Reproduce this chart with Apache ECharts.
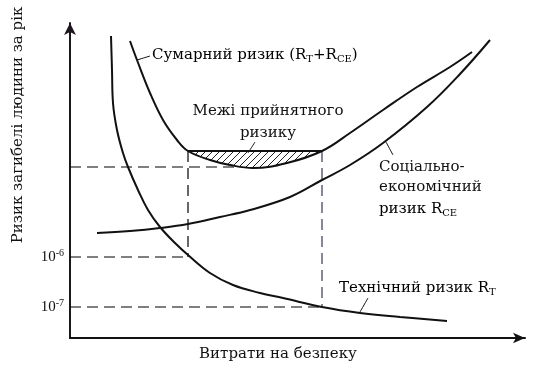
<!DOCTYPE html>
<html>
<head>
<meta charset="utf-8">
<script src="https://cdn.jsdelivr.net/npm/echarts@6/dist/echarts.min.js"></script>
<style>
html, body { margin: 0; padding: 0; background: #fff; }
#chart { width: 537px; height: 377px; }
</style>
</head>
<body>
<div id="chart"></div>
<script>
// curves (x = витрати, y = ризик, arbitrary units)
var technical = [[8.2, 60.4], [8.4, 53.6], [8.6, 47.0], [9.4, 41.6], [10.6, 37.0], [11.6, 34.2], [13.6, 29.6],
    [15.6, 25.6], [18.0, 22.2], [21.0, 19.0], [23.6, 16.6], [28.0, 13.0], [32.6, 10.6], [38.0, 9.0],
    [42.6, 8.0], [50.4, 6.2], [58.0, 5.0], [66.0, 4.2], [75.4, 3.4]];
var socialEcon = [[5.4, 21.0], [12.0, 21.4], [18.0, 22.0], [23.6, 22.8], [30.0, 24.2], [36.0, 25.6], [44.0, 28.2],
    [50.4, 31.6], [56.0, 34.6], [62.6, 39.0], [71.4, 46.2], [78.0, 52.8], [84.0, 59.6]];
var total = [[12.0, 59.4], [13.4, 55.6], [16.0, 49.0], [18.6, 43.6], [21.4, 39.6], [23.6, 37.4], [28.0, 35.6],
    [32.0, 34.6], [36.6, 34.0], [43.4, 35.0], [50.4, 37.4], [56.0, 41.0], [62.6, 45.6], [69.4, 50.2],
    [76.0, 54.2], [80.4, 57.2]];
// zone of acceptable risk
var zoneTop = 37.4;
var zoneLeft = 23.6, zoneRight = 50.4;
var zoneBottom = [[23.6, 37.4], [28.0, 35.6], [32.0, 34.6], [36.6, 34.0], [43.4, 35.0], [50.4, 37.4]];
// levels on the risk axis
var levelMin = 34.2;     // minimum of total risk
var level6 = 16.2;       // 10^-6
var level7 = 6.2;        // 10^-7
var tickValues = [6.2, 16.2];
var tickLabels = ['{n|10}{p|-7}', '{n|10}{p|-6}'];
// leader lines from the notes to the curves
var leaderTotal = [[16.0, 56.4], [13.4, 55.6]];
var leaderZone = [[37.0, 39.2], [35.6, 37.0]];
var leaderSocial = [[64.6, 36.6], [63.2, 39.2]];
var leaderTech = [[59.6, 8.0], [58.0, 5.2]];

var FONT = "'DejaVu Serif', 'Liberation Serif', serif";
var TICKFONT = "'Liberation Serif', serif";
var INK = '#111';

var hatch = document.createElement('canvas');
hatch.width = 7;
hatch.height = 7;
var hc = hatch.getContext('2d');
hc.strokeStyle = '#222';
hc.lineWidth = 1;
hc.beginPath();
hc.moveTo(0, 7); hc.lineTo(7, 0);
hc.moveTo(-1, 1); hc.lineTo(1, -1);
hc.moveTo(6, 8); hc.lineTo(8, 6);
hc.stroke();

function curve(data, w) {
    return {
        type: 'line', data: data, smooth: 0.4, symbol: 'none', silent: true,
        lineStyle: { color: INK, width: w }
    };
}
function dashed(data, color) {
    return {
        type: 'line', data: data, symbol: 'none', silent: true,
        lineStyle: { color: color || '#000', width: 1.2, type: [11, 6] }
    };
}

var rich = {
    t: { fontSize: 15, fontFamily: FONT, color: INK },
    s: { fontSize: 10, fontFamily: FONT, color: INK, padding: [9, 0, 0, 0] }
};

var chart = echarts.init(document.getElementById('chart'));
chart.setOption({
    backgroundColor: '#fff',
    animation: false,
    grid: { left: 70, right: 12, top: 23, bottom: 39 },
    xAxis: {
        type: 'value', min: 0, max: 91,
        axisLine: { lineStyle: { color: INK, width: 2 }, symbol: ['none', 'arrow'], symbolSize: [8, 12] },
        axisTick: { show: false }, axisLabel: { show: false }, splitLine: { show: false }
    },
    yAxis: {
        type: 'value', min: 0, max: 63,
        axisLine: { lineStyle: { color: '#1e161e', width: 2 }, symbol: ['none', 'arrow'], symbolSize: [9, 12] },
        axisTick: { show: false }, splitLine: { show: false },
        axisLabel: {
            customValues: tickValues, margin: 6,
            formatter: function (v) { return tickLabels[tickValues.indexOf(v)]; },
            rich: {
                n: { fontSize: 15, fontFamily: TICKFONT, color: INK },
                p: { fontSize: 10, fontFamily: TICKFONT, color: INK, padding: [0, 0, 8, 0] }
            }
        }
    },
    graphic: [
        { type: 'text', x: 18, y: 125, rotation: Math.PI / 2,
          style: { text: 'Ризик загибелі людини за рік', font: '15px ' + FONT, fill: INK, align: 'center', verticalAlign: 'middle' } },
        { type: 'text', x: 278, y: 354,
          style: { text: 'Витрати на безпеку', font: '15px ' + FONT, fill: INK, align: 'center', verticalAlign: 'middle' } },
        { type: 'text', x: 152, y: 55,
          style: { text: '{t|Сумарний ризик (R}{s|Т}{t|+R}{s|СЕ}{t|)}', rich: rich, align: 'left', verticalAlign: 'middle' } },
        { type: 'text', x: 268, y: 111,
          style: { text: 'Межі прийнятного', font: '15px ' + FONT, fill: INK, align: 'center', verticalAlign: 'middle' } },
        { type: 'text', x: 268, y: 133,
          style: { text: 'ризику', font: '15px ' + FONT, fill: INK, align: 'center', verticalAlign: 'middle' } },
        { type: 'text', x: 379, y: 167,
          style: { text: 'Соціально-', font: '15px ' + FONT, fill: INK, align: 'left', verticalAlign: 'middle' } },
        { type: 'text', x: 379, y: 187,
          style: { text: 'економічний', font: '15px ' + FONT, fill: INK, align: 'left', verticalAlign: 'middle' } },
        { type: 'text', x: 379, y: 209,
          style: { text: '{t|ризик R}{s|СЕ}', rich: rich, align: 'left', verticalAlign: 'middle' } },
        { type: 'text', x: 339, y: 288,
          style: { text: '{t|Технічний ризик R}{s|Т}', rich: rich, align: 'left', verticalAlign: 'middle' } }
    ],
    series: [
        {
            type: 'line', data: zoneBottom, smooth: 0.4, symbol: 'none', silent: true,
            lineStyle: { width: 0 },
            areaStyle: { color: { image: hatch, repeat: 'repeat' }, origin: zoneTop, opacity: 1 }
        },
        curve([[zoneLeft, zoneTop], [zoneRight, zoneTop]], 2),
        dashed([[0, levelMin], [33, levelMin]]),
        dashed([[zoneLeft, zoneTop], [zoneLeft, level6]]),
        dashed([[0, level6], [zoneLeft, level6]]),
        dashed([[0, level7], [zoneRight, level7]]),
        dashed([[zoneRight, zoneTop], [zoneRight, level7]], '#3e3350'),
        curve(technical, 2),
        curve(socialEcon, 2),
        curve(total, 2),
        curve(leaderTotal, 1),
        curve(leaderZone, 1),
        curve(leaderSocial, 1),
        curve(leaderTech, 1)
    ]
});
</script>
</body>
</html>
